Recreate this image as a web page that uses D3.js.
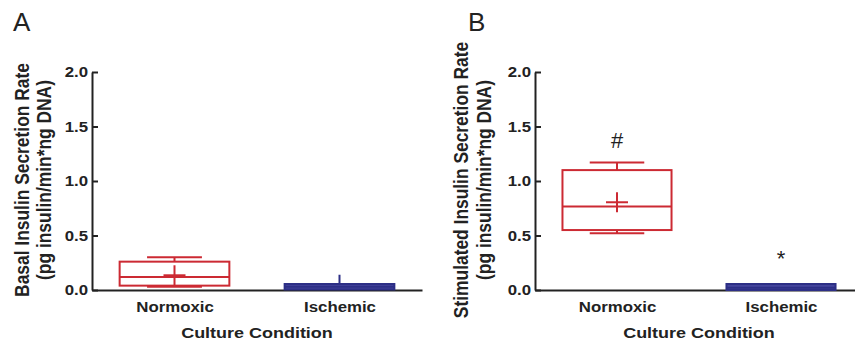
<!DOCTYPE html>
<html>
<head>
<meta charset="utf-8">
<script src="https://cdn.jsdelivr.net/npm/d3@7"></script>
<style>
  html, body { margin: 0; padding: 0; background: #fff; }
  svg { display: block; }
  text { font-family: "Liberation Sans", Arial, sans-serif; fill: #222; }
</style>
</head>
<body>
<svg id="chart" width="855" height="341"></svg>
<script>
// ---------- data ----------
const categories = ["Normoxic", "Ischemic"];
const panelLetters = ["A", "B"];
const yTickValues = [0, 0.5, 1.0, 1.5, 2.0];
const xTitle = "Culture Condition";
const basalTitle = ["Basal Insulin Secretion Rate", "(pg insulin/min*ng DNA)"];
const stimTitle = ["Stimulated Insulin Secretion Rate", "(pg insulin/min*ng DNA)"];

// Panel A – basal
const basalMin    = [0.03, 0.005];
const basalQ1     = [0.04, 0.005];
const basalMedian = [0.12, 0.03];
const basalQ3     = [0.26, 0.055];
const basalMax    = [0.30, 0.14];
const basalMean   = [0.135, 0.04];
const basalMarks  = ["", ""];
const basalMarkY  = [0, 0];

// Panel B – stimulated
const stimMin    = [0.52, 0.0];
const stimQ1     = [0.55, 0.0];
const stimMedian = [0.765, 0.02];
const stimQ3     = [1.10, 0.055];
const stimMax    = [1.17, 0.055];
const stimMean   = [0.805, 0.03];
const stimMarks  = ["#", "*"];
const stimMarkY  = [1.30, 0.22];

// which groups show whisker caps / mean crosses (Ischemic ones are hidden in the reference)
const showCaps = [true, false];
const showMean = [true, false];

// ---------- layout ----------
const svg = d3.select("#chart");
const SX = 1.16; // horizontal glyph stretch of the reference
const colors = { Normoxic: "#cc2a33", Ischemic: "#2d2f86" };
const fills  = { Normoxic: "none", Ischemic: "#45469c" };

const panels = [
  { letter: panelLetters[0], title: basalTitle, x0: 92, x1: 422, titleX: [29, 51], letterX: 13,
    min: basalMin, q1: basalQ1, med: basalMedian, q3: basalQ3, max: basalMax, mean: basalMean,
    marks: basalMarks, markY: basalMarkY },
  { letter: panelLetters[1], title: stimTitle, x0: 535, x1: 863, titleX: [468, 491], letterX: 468,
    min: stimMin, q1: stimQ1, med: stimMedian, q3: stimQ3, max: stimMax, mean: stimMean,
    marks: stimMarks, markY: stimMarkY }
];

const yTop = 72, yBottom = 290;

panels.forEach(p => {
  const g = svg.append("g");
  const y = d3.scaleLinear().domain([0, 2]).range([yBottom, yTop]);
  const x = d3.scalePoint().domain(categories).range([p.x0, p.x1]).padding(0.5);
  const step = x.step();
  const boxW = step * 0.665;
  const capW = boxW / 2;
  const crossW = 11, crossH = 10;

  // panel letter
  g.append("text").attr("x", p.letterX).attr("y", 31)
    .attr("font-size", 26).text(p.letter);

  // y axis
  const yAxis = d3.axisLeft(y).tickValues(yTickValues).tickFormat(d3.format(".1f"))
    .tickSizeInner(-6).tickSizeOuter(0).tickPadding(4);
  const ya = g.append("g").attr("transform", `translate(${p.x0},0)`).call(yAxis);
  ya.select(".domain").attr("stroke", "#222").attr("stroke-width", 2);
  ya.selectAll(".tick line").attr("stroke", "#222").attr("stroke-width", 2);
  ya.selectAll(".tick text").attr("font-size", 14.5).attr("font-weight", "bold")
    .attr("fill", "#333").attr("font-family", "Liberation Sans, Arial, sans-serif")
    .attr("transform", `scale(${SX},1)`).attr("x", -4 / SX);

  // x axis
  const xAxis = d3.axisBottom(x).tickSize(0).tickPadding(12);
  const xa = g.append("g").attr("transform", `translate(0,${yBottom})`).call(xAxis);
  xa.select(".domain").attr("stroke", "#222").attr("stroke-width", 2);
  xa.selectAll(".tick text").attr("font-size", 14.5).attr("font-weight", "bold")
    .attr("fill", "#333").attr("font-family", "Liberation Sans, Arial, sans-serif")
    .attr("transform", `scale(${SX},1)`);

  // x title
  const xMid = (x(categories[0]) + x(categories[1])) / 2;
  g.append("text")
    .attr("transform", `translate(${xMid},338) scale(${SX},1)`)
    .attr("text-anchor", "middle").attr("font-size", 15.5).attr("font-weight", "bold")
    .attr("fill", "#333").text(xTitle);

  // y title (two lines)
  p.title.forEach((t, i) => {
    g.append("text")
      .attr("transform", `translate(${p.titleX[i]},180) scale(${SX},1) rotate(-90)`)
      .attr("text-anchor", "middle").attr("font-size", 17.4).attr("font-weight", "bold")
      .attr("fill", "#333").text(t);
  });

  // boxes
  categories.forEach((c, i) => {
    const cx = x(c);
    const col = colors[c];
    const bg = g.append("g").attr("stroke", col).attr("stroke-width", 2).attr("fill", "none");
    // whiskers
    bg.append("line").attr("x1", cx).attr("x2", cx).attr("y1", y(p.q3[i])).attr("y2", y(p.max[i]));
    bg.append("line").attr("x1", cx).attr("x2", cx).attr("y1", y(p.q1[i])).attr("y2", y(p.min[i]));
    if (showCaps[i]) {
      bg.append("line").attr("x1", cx - capW / 2).attr("x2", cx + capW / 2).attr("y1", y(p.max[i])).attr("y2", y(p.max[i]));
      bg.append("line").attr("x1", cx - capW / 2).attr("x2", cx + capW / 2).attr("y1", y(p.min[i])).attr("y2", y(p.min[i]));
    }
    // box
    bg.append("rect").attr("x", cx - boxW / 2).attr("width", boxW)
      .attr("y", y(p.q3[i])).attr("height", Math.max(0, y(p.q1[i]) - y(p.q3[i])))
      .attr("fill", fills[c]);
    // median
    bg.append("line").attr("x1", cx - boxW / 2).attr("x2", cx + boxW / 2)
      .attr("y1", y(p.med[i])).attr("y2", y(p.med[i]));
    // mean cross
    if (showMean[i]) {
      bg.append("line").attr("x1", cx - crossW).attr("x2", cx + crossW)
        .attr("y1", y(p.mean[i])).attr("y2", y(p.mean[i]));
      bg.append("line").attr("x1", cx).attr("x2", cx)
        .attr("y1", y(p.mean[i]) - crossH).attr("y2", Math.min(yBottom, y(p.mean[i]) + crossH));
    }
    // significance marks
    if (p.marks[i]) {
      g.append("text").attr("x", cx).attr("y", y(p.markY[i]))
        .attr("text-anchor", "middle")
        .attr("font-size", 22)
        .attr("fill", "#333").text(p.marks[i]);
    }
  });
});
</script>
</body>
</html>
